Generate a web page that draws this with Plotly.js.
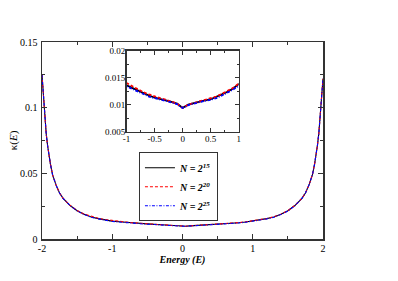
<!DOCTYPE html>
<html>
<head>
<meta charset="utf-8">
<script src="https://cdn.plot.ly/plotly-3.0.1.min.js"></script>
<style>html,body{margin:0;padding:0;background:#fff;}#plot{width:398px;height:281px;}</style>
</head>
<body>
<div id="plot"></div>
<script>
var energy = [-2, -1.98, -1.96, -1.94, -1.92, -1.9, -1.88, -1.85, -1.8, -1.75, -1.7, -1.6, -1.5, -1.4, -1.3, -1.2, -1.1, -1, -0.9, -0.8, -0.7, -0.6, -0.5, -0.4, -0.3, -0.2, -0.1, -0.05, 0, 0.05, 0.1, 0.2, 0.3, 0.4, 0.5, 0.6, 0.7, 0.8, 0.9, 1, 1.1, 1.2, 1.3, 1.4, 1.5, 1.6, 1.7, 1.75, 1.8, 1.85, 1.88, 1.9, 1.92, 1.94, 1.96, 1.98, 2];
var kappa15 = [0.125, 0.107, 0.093, 0.080, 0.071, 0.063, 0.057, 0.049, 0.041, 0.035, 0.031, 0.0255, 0.0215, 0.0188, 0.0168, 0.0155, 0.0145, 0.0136, 0.0131, 0.0126, 0.0121, 0.0117, 0.0113, 0.0111, 0.0108, 0.0105, 0.0102, 0.0098, 0.0094, 0.0097, 0.0100, 0.0103, 0.0106, 0.0108, 0.0110, 0.0114, 0.0119, 0.0124, 0.0130, 0.0138, 0.0145, 0.0155, 0.0168, 0.0188, 0.0215, 0.0255, 0.031, 0.035, 0.041, 0.049, 0.057, 0.063, 0.071, 0.080, 0.093, 0.107, 0.122];
var kappa20 = [0.125, 0.107, 0.093, 0.080, 0.071, 0.063, 0.057, 0.049, 0.041, 0.035, 0.031, 0.0256, 0.0217, 0.0190, 0.0171, 0.0158, 0.0148, 0.0140, 0.0134, 0.0129, 0.0123, 0.0119, 0.0115, 0.0112, 0.0109, 0.0106, 0.0102, 0.0098, 0.0094, 0.0097, 0.0100, 0.0103, 0.0106, 0.0109, 0.0111, 0.0115, 0.0120, 0.0125, 0.0131, 0.0139, 0.0146, 0.0156, 0.0169, 0.0189, 0.0216, 0.0256, 0.031, 0.035, 0.041, 0.049, 0.057, 0.063, 0.071, 0.080, 0.093, 0.107, 0.122];
var kappa25 = [0.125, 0.107, 0.093, 0.080, 0.071, 0.063, 0.057, 0.049, 0.041, 0.035, 0.031, 0.0254, 0.0214, 0.0186, 0.0166, 0.0153, 0.0142, 0.0134, 0.0129, 0.0124, 0.0119, 0.0115, 0.0112, 0.0110, 0.0107, 0.0104, 0.0101, 0.0097, 0.0094, 0.0096, 0.0099, 0.0102, 0.0105, 0.0107, 0.0109, 0.0112, 0.0117, 0.0122, 0.0128, 0.0135, 0.0143, 0.0153, 0.0166, 0.0186, 0.0213, 0.0253, 0.031, 0.035, 0.041, 0.049, 0.057, 0.063, 0.071, 0.080, 0.093, 0.107, 0.122];
var seriesNames = ['<b><i>N = 2<sup>15</sup></i></b>', '<b><i>N = 2<sup>20</sup></i></b>', '<b><i>N = 2<sup>25</sup></i></b>'];
var mainXTicks = [-2, -1, 0, 1, 2];
var mainYTicks = [0, 0.05, 0.1, 0.15];
var insetXTicks = [-1, -0.5, 0, 0.5, 1];
var insetYTicks = [0.005, 0.01, 0.015, 0.02];

var allSeries = [kappa15, kappa20, kappa25];
var colors = ['#000000', '#ff0000', '#0000ff'];
var dashes = ['solid', '3px,2px', '3px,1.5px,1px,1.5px'];
var traces = [];
for (var i = 0; i < 3; i++) {
  traces.push({x: energy, y: allSeries[i], type: 'scatter', mode: 'lines', name: seriesNames[i],
    line: {color: colors[i], width: 1.1, dash: dashes[i]}, xaxis: 'x', yaxis: 'y'});
}
for (var j = 0; j < 3; j++) {
  traces.push({x: energy, y: allSeries[j], type: 'scatter', mode: 'lines', showlegend: false,
    line: {color: colors[j], width: 1.8, dash: dashes[j]}, xaxis: 'x2', yaxis: 'y2'});
}
var font = {family: 'Liberation Serif, Times New Roman, serif', color: '#000'};
var axisCommon = {showgrid: false, zeroline: false, showline: true, linecolor: '#333', linewidth: 1.5,
  mirror: 'allticks', ticks: 'inside', tickcolor: '#333', tickwidth: 1, ticklabelstandoff: -2,
  tickfont: {family: font.family, size: 10, color: '#000'}};
var layout = {
  width: 398, height: 281,
  margin: {l: 42, r: 75, t: 42, b: 42},
  paper_bgcolor: '#fff', plot_bgcolor: '#fff',
  font: font,
  showlegend: true,
  legend: {x: 0.345, y: 0.44, xanchor: 'left', yanchor: 'top', bgcolor: '#fff', bordercolor: '#333', borderwidth: 1,
    font: {family: font.family, size: 10, color: '#000'}, tracegroupgap: 0, itemwidth: 30},
  xaxis: Object.assign({}, axisCommon, {range: [-2, 2], tickvals: mainXTicks, ticktext: mainXTicks.map(String), ticklen: 5,
    ticklabelstandoff: -1,
    minor: {ticks: 'inside', ticklen: 3, dtick: 0.5, tickcolor: '#333'},
    title: {text: '<b><i>Energy (E)</i></b>', font: {family: font.family, size: 10, color: '#000'}, standoff: 0}}),
  yaxis: Object.assign({}, axisCommon, {range: [0, 0.15], tickvals: mainYTicks, ticktext: ['0', '0.05', '0.1', '0.15'], ticklen: 5,
    ticklabelstandoff: 1,
    minor: {ticks: 'inside', ticklen: 3, dtick: 0.025, tickcolor: '#333'},
    title: {text: 'κ(<i>E</i>)', font: {family: font.family, size: 11, color: '#000'}, standoff: 0}}),
  xaxis2: Object.assign({}, axisCommon, {domain: [0.301, 0.700], anchor: 'y2', range: [-1, 1], tickvals: insetXTicks,
    ticktext: ['-1', '-0.5', '0', '0.5', '1'], ticklen: 4, tickfont: {family: font.family, size: 9, color: '#000'},
    minor: {ticks: 'inside', ticklen: 2, dtick: 0.25, tickcolor: '#333'}}),
  yaxis2: Object.assign({}, axisCommon, {domain: [0.545, 0.956], anchor: 'x2', range: [0.005, 0.02], tickvals: insetYTicks,
    ticktext: ['0.005', '0.01', '0.015', '0.02'], ticklen: 4, tickfont: {family: font.family, size: 9, color: '#000'},
    minor: {ticks: 'inside', ticklen: 2, dtick: 0.0025, tickcolor: '#333'}})
};
Plotly.newPlot('plot', traces, layout, {displayModeBar: false, staticPlot: true});
</script>
</body>
</html>
